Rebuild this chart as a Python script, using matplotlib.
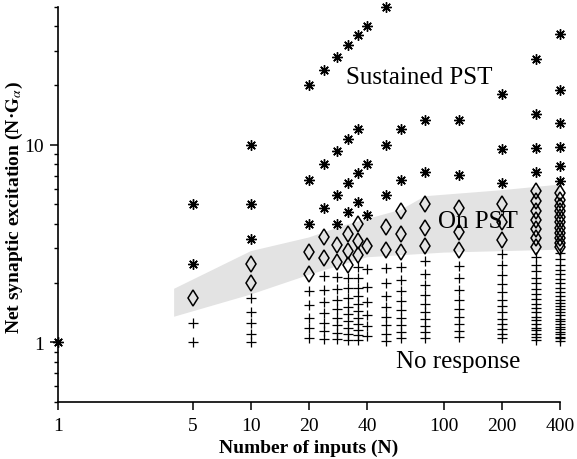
import matplotlib
matplotlib.use("Agg")
import matplotlib.pyplot as plt

plt.rcParams["font.family"] = ["Liberation Serif", "DejaVu Serif"]
plt.rcParams["mathtext.fontset"] = "stix"

# number of inputs for each column of simulations
n_inputs = [1, 5, 10, 20, 24, 28, 32, 36, 40, 50, 60, 80, 120, 200, 300, 400]

# net synaptic excitation of each simulation, split by response type
sustained = [
    [1.0],
    [5.0, 2.5],
    [10.0, 5.0, 3.33],
    [20.0, 6.67, 4.0],
    [24.0, 8.0, 4.8],
    [28.0, 9.33, 5.6, 4.0],
    [32.0, 10.67, 6.4, 4.57],
    [36.0, 12.0, 7.2, 5.14],
    [40.0, 8.0, 4.44],
    [50.0, 10.0, 5.56],
    [12.0, 6.67],
    [13.33, 7.27],
    [13.33, 7.06],
    [18.18, 9.52, 6.45],
    [27.27, 14.29, 9.68, 7.32],
    [36.36, 19.05, 12.9, 9.76, 7.84, 6.56],
]
on_pst = [
    [],
    [1.67],
    [2.5, 2.0],
    [2.86, 2.22],
    [3.43, 2.67],
    [3.11, 2.55],
    [3.56, 2.91, 2.46],
    [4.0, 3.27, 2.77],
    [3.08],
    [3.85, 2.94],
    [4.62, 3.53, 2.86],
    [5.0, 3.81, 3.08],
    [4.8, 3.64, 2.93],
    [5.0, 4.05, 3.3],
    [5.85, 5.2, 4.65, 4.18, 3.76, 3.38, 3.03],
    [5.71, 5.28, 4.92, 4.61, 4.31, 4.06, 3.8, 3.58, 3.38, 3.19, 3.03],
]
no_response = [
    [],
    [1.25, 1.0],
    [1.67, 1.43, 1.25, 1.11, 1.0],
    [1.82, 1.54, 1.33, 1.18, 1.05],
    [2.18, 1.85, 1.6, 1.41, 1.26, 1.14, 1.04],
    [2.15, 1.87, 1.65, 1.47, 1.33, 1.22, 1.12, 1.04],
    [2.13, 1.88, 1.68, 1.52, 1.39, 1.28, 1.19, 1.1, 1.03],
    [2.4, 2.12, 1.89, 1.71, 1.57, 1.44, 1.33, 1.24, 1.16, 1.09, 1.03],
    [2.35, 1.9, 1.6, 1.38, 1.21, 1.08],
    [2.38, 2.0, 1.72, 1.52, 1.35, 1.22, 1.11, 1.02],
    [2.4, 2.07, 1.82, 1.62, 1.46, 1.33, 1.22, 1.13, 1.05],
    [2.58, 2.22, 1.95, 1.74, 1.57, 1.43, 1.31, 1.21, 1.13, 1.05],
    [2.45, 2.11, 1.85, 1.64, 1.48, 1.35, 1.24, 1.14, 1.06],
    [2.82, 2.47, 2.2, 1.98, 1.8, 1.65, 1.53, 1.42, 1.32, 1.24, 1.17, 1.1, 1.05],
    [2.7, 2.48, 2.29, 2.13, 1.99, 1.86, 1.75, 1.66, 1.57, 1.49, 1.42, 1.35,
     1.3, 1.24, 1.19, 1.15, 1.1, 1.07, 1.03],
    [2.84, 2.65, 2.48, 2.34, 2.21, 2.09, 1.99, 1.89, 1.8, 1.72, 1.65, 1.59,
     1.53, 1.47, 1.42, 1.37, 1.32, 1.28, 1.24, 1.2, 1.17, 1.13, 1.1, 1.07,
     1.05, 1.02],
]

# shaded "On PST" region (upper and lower edges)
band_upper_n = [4, 10, 20, 30, 60, 80, 200, 400]
band_upper_y = [1.87, 2.9, 3.4, 3.9, 4.7, 5.5, 5.9, 6.3]
band_lower_n = [400, 100, 40, 20, 10, 4]
band_lower_y = [2.95, 2.85, 2.7, 2.2, 1.75, 1.35]

x_ticks = [1, 5, 10, 20, 40, 100, 200, 400]

fig = plt.figure(figsize=(5.77, 4.60), dpi=100)
ax = fig.add_axes([0.1005, 0.124, 0.870, 0.859])

ax.fill(band_upper_n + band_lower_n, band_upper_y + band_lower_y,
        color="#e3e3e3", lw=0, zorder=1)

for n, ys in zip(n_inputs, sustained):
    ax.plot([n] * len(ys), ys, ls="none", marker=(8, 2, 0), ms=7.5, mew=1.0,
            color="black", clip_on=False, zorder=3)
    ax.plot([n] * len(ys), ys, ls="none", marker="o", ms=3, mew=0,
            color="black", clip_on=False, zorder=3)
for n, ys in zip(n_inputs, on_pst):
    ax.plot([n] * len(ys), ys, ls="none", marker="d", ms=8, mew=1.1,
            mfc="none", mec="black", clip_on=False, zorder=3)
for n, ys in zip(n_inputs, no_response):
    ax.plot([n] * len(ys), ys, ls="none", marker="+", ms=7, mew=0.9,
            color="black", clip_on=False, zorder=3)

ax.text(75, 22.0, "Sustained PST", fontsize=18, ha="center", va="center")
ax.text(150, 4.1, "On PST", fontsize=18, ha="center", va="center")
ax.text(118, 0.81, "No response", fontsize=18, ha="center", va="center")

ax.set_xscale("log")
ax.set_yscale("log")
ax.set_xlim(1, 400)
ax.set_ylim(0.5, 50)
ax.set_xticks(x_ticks)
ax.set_xticklabels([str(t) for t in x_ticks])
ax.xaxis.set_minor_locator(matplotlib.ticker.NullLocator())
ax.set_yticks([1, 10])
ax.set_yticklabels(["1", "10"])
ax.yaxis.set_minor_formatter(matplotlib.ticker.NullFormatter())

for side in ["top", "right"]:
    ax.spines[side].set_visible(False)
for side in ["left", "bottom"]:
    ax.spines[side].set_linewidth(1.2)

ax.tick_params(axis="both", which="major", direction="out", length=6,
               width=1.1, labelsize=14)
ax.tick_params(axis="x", which="major", pad=5)
ax.tick_params(axis="y", which="major", pad=4)
ax.tick_params(axis="y", which="minor", direction="out", length=3, width=1.0)

ax.set_xlabel("Number of inputs (N)", fontsize=14, fontweight="bold")
ax.xaxis.set_label_coords(0.5, -0.093)
ax.set_ylabel("Net synaptic excitation (N\u00b7$\\mathbf{G}_{\\alpha}$)",
              fontsize=14, fontweight="bold")
ax.yaxis.set_label_coords(-0.066, 0.495)

fig.savefig("out.png", dpi=100)
